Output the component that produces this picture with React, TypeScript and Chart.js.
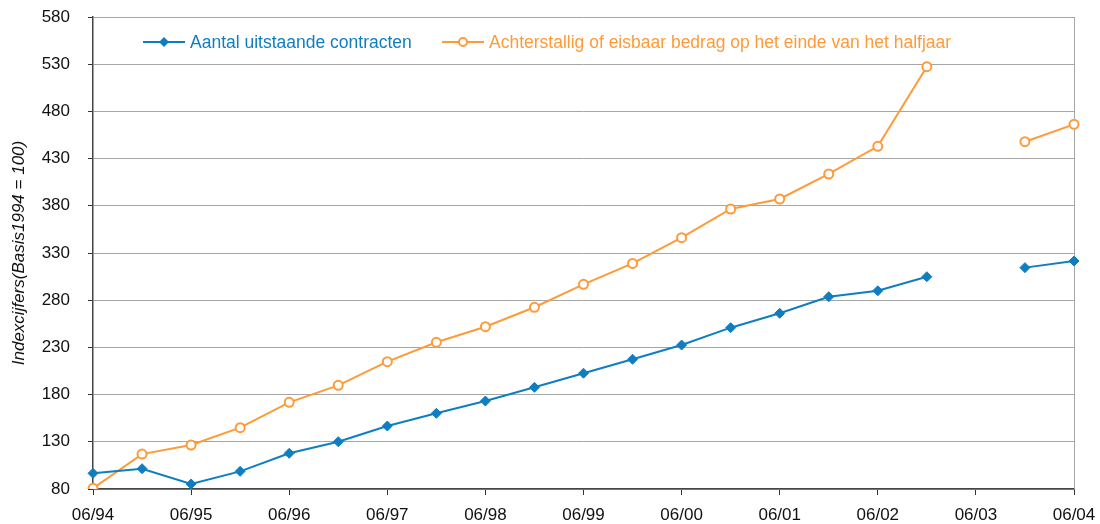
import React, { useEffect, useRef } from "react";
import { Chart, registerables } from "chart.js";

Chart.register(...registerables);

const periods = [
  "06/94", "12/94", "06/95", "12/95", "06/96", "12/96", "06/97", "12/97",
  "06/98", "12/98", "06/99", "12/99", "06/00", "12/00", "06/01", "12/01",
  "06/02", "12/02", "06/03", "12/03", "06/04",
];

const contractsLabel = "Aantal uitstaande contracten";
const arrearsLabel = "Achterstallig of eisbaar bedrag op het einde van het halfjaar";

const contracts: (number | null)[] = [
  96.6, 101.5, 85.3, 98.7, 117.8, 130.1, 146.7, 160.2, 173.2, 187.7,
  202.6, 217.4, 232.5, 250.9, 266.1, 283.7, 290.0, 304.9, null, 314.5, 321.5,
];

const arrears: (number | null)[] = [
  80.7, 117.0, 126.6, 145.0, 171.8, 189.8, 214.9, 235.4, 251.9, 272.5,
  296.8, 319.0, 346.2, 376.6, 387.2, 413.7, 443.0, 527.4, null, 447.9, 466.3,
];

const yTitle = "Indexcijfers(Basis1994 = 100)";
const yMin = 80;
const yMax = 580;
const yStep = 50;

const BLUE = "#0F7EC1";
const ORANGE = "#FF9A38";
const FONT = "'Liberation Sans', Arial, sans-serif";

const legendPlugin = {
  id: "insideLegend",
  afterDraw(chart: any) {
    const ctx = chart.ctx;
    const items = [
      { x: 143, label: contractsLabel, color: BLUE, style: "diamond" },
      { x: 442, label: arrearsLabel, color: ORANGE, style: "circle" },
    ];
    const y = 42;
    ctx.save();
    items.forEach((it) => {
      ctx.strokeStyle = it.color;
      ctx.lineWidth = 2;
      ctx.beginPath();
      ctx.moveTo(it.x, y);
      ctx.lineTo(it.x + 42, y);
      ctx.stroke();
      const cx = it.x + 21;
      if (it.style === "diamond") {
        ctx.fillStyle = it.color;
        ctx.beginPath();
        ctx.moveTo(cx, y - 5);
        ctx.lineTo(cx + 5, y);
        ctx.lineTo(cx, y + 5);
        ctx.lineTo(cx - 5, y);
        ctx.closePath();
        ctx.fill();
      } else {
        ctx.fillStyle = "#fff";
        ctx.beginPath();
        ctx.arc(cx, y, 4, 0, Math.PI * 2);
        ctx.fill();
        ctx.stroke();
      }
      ctx.fillStyle = it.color;
      ctx.font = `17.5px ${FONT}`;
      ctx.textBaseline = "middle";
      ctx.textAlign = "left";
      ctx.fillText(it.label, it.x + 47, y + 1);
    });
    ctx.restore();
  },
};

const borderPlugin = {
  id: "rightBorder",
  beforeDatasetsDraw(chart: any) {
    const { ctx, chartArea } = chart;
    ctx.save();
    ctx.strokeStyle = "#A6A6A6";
    ctx.lineWidth = 1;
    ctx.beginPath();
    ctx.moveTo(chartArea.right + 0.5, chartArea.top);
    ctx.lineTo(chartArea.right + 0.5, chartArea.bottom);
    ctx.stroke();
    ctx.restore();
  },
};

export default function App() {
  const ref = useRef<HTMLCanvasElement | null>(null);

  useEffect(() => {
    document.body.style.margin = "0";
    const canvas = ref.current;
    if (!canvas) return;
    const chart = new Chart(canvas, {
      type: "line",
      data: {
        labels: periods,
        datasets: [
          {
            label: contractsLabel,
            data: contracts,
            borderColor: BLUE,
            backgroundColor: BLUE,
            borderWidth: 2,
            pointStyle: "rectRot",
            pointRadius: 5,
            pointBackgroundColor: BLUE,
            pointBorderColor: BLUE,
            pointBorderWidth: 1,
            tension: 0,
            spanGaps: false,
          },
          {
            label: arrearsLabel,
            data: arrears,
            borderColor: ORANGE,
            backgroundColor: "#fff",
            borderWidth: 2,
            pointStyle: "circle",
            pointRadius: 4.5,
            pointBackgroundColor: "#fff",
            pointBorderColor: ORANGE,
            pointBorderWidth: 2,
            tension: 0,
            spanGaps: false,
          },
        ],
      },
      options: {
        animation: false,
        responsive: false,
        maintainAspectRatio: false,
        devicePixelRatio: 1,
        layout: { autoPadding: false, padding: { top: 17, right: 26, left: 0, bottom: 0 } },
        plugins: {
          legend: { display: false },
          tooltip: { enabled: false },
        },
        scales: {
          x: {
            type: "category",
            offset: false,
            grid: {
              drawOnChartArea: false,
              drawTicks: true,
              tickLength: 6,
              tickColor: "#333",
            },
            border: { color: "#444", width: 1.5 },
            ticks: {
              autoSkip: false,
              maxRotation: 0,
              color: "#111",
              font: { family: FONT, size: 17 },
              padding: 10,
              callback: (_v: any, i: number) => (i % 2 === 0 ? periods[i] : null),
            },
            afterFit: (s: any) => {
              s.height = 35;
              s.paddingLeft = 0;
              s.paddingRight = 0;
              s.paddingTop = 0;
              s.paddingBottom = 0;
            },
          },
          y: {
            min: yMin,
            max: yMax,
            ticks: {
              stepSize: yStep,
              color: "#111",
              font: { family: FONT, size: 17 },
              padding: 18,
            },
            grid: {
              color: "#A6A6A6",
              lineWidth: 1,
              drawTicks: true,
              tickLength: 5,
              tickColor: "#333",
            },
            border: { color: "#444", width: 1.5 },
            title: {
              display: true,
              text: yTitle,
              color: "#111",
              font: { family: FONT, size: 17, style: "italic" },
              padding: { top: 9, bottom: 0 },
            },
            afterFit: (s: any) => {
              s.width = 93;
              s.paddingLeft = 0;
              s.paddingRight = 0;
              s.paddingTop = 0;
              s.paddingBottom = 0;
            },
          },
        },
      },
      plugins: [legendPlugin, borderPlugin],
    });
    return () => chart.destroy();
  }, []);

  return <canvas ref={ref} width={1100} height={524} style={{ display: "block" }} />;
}
